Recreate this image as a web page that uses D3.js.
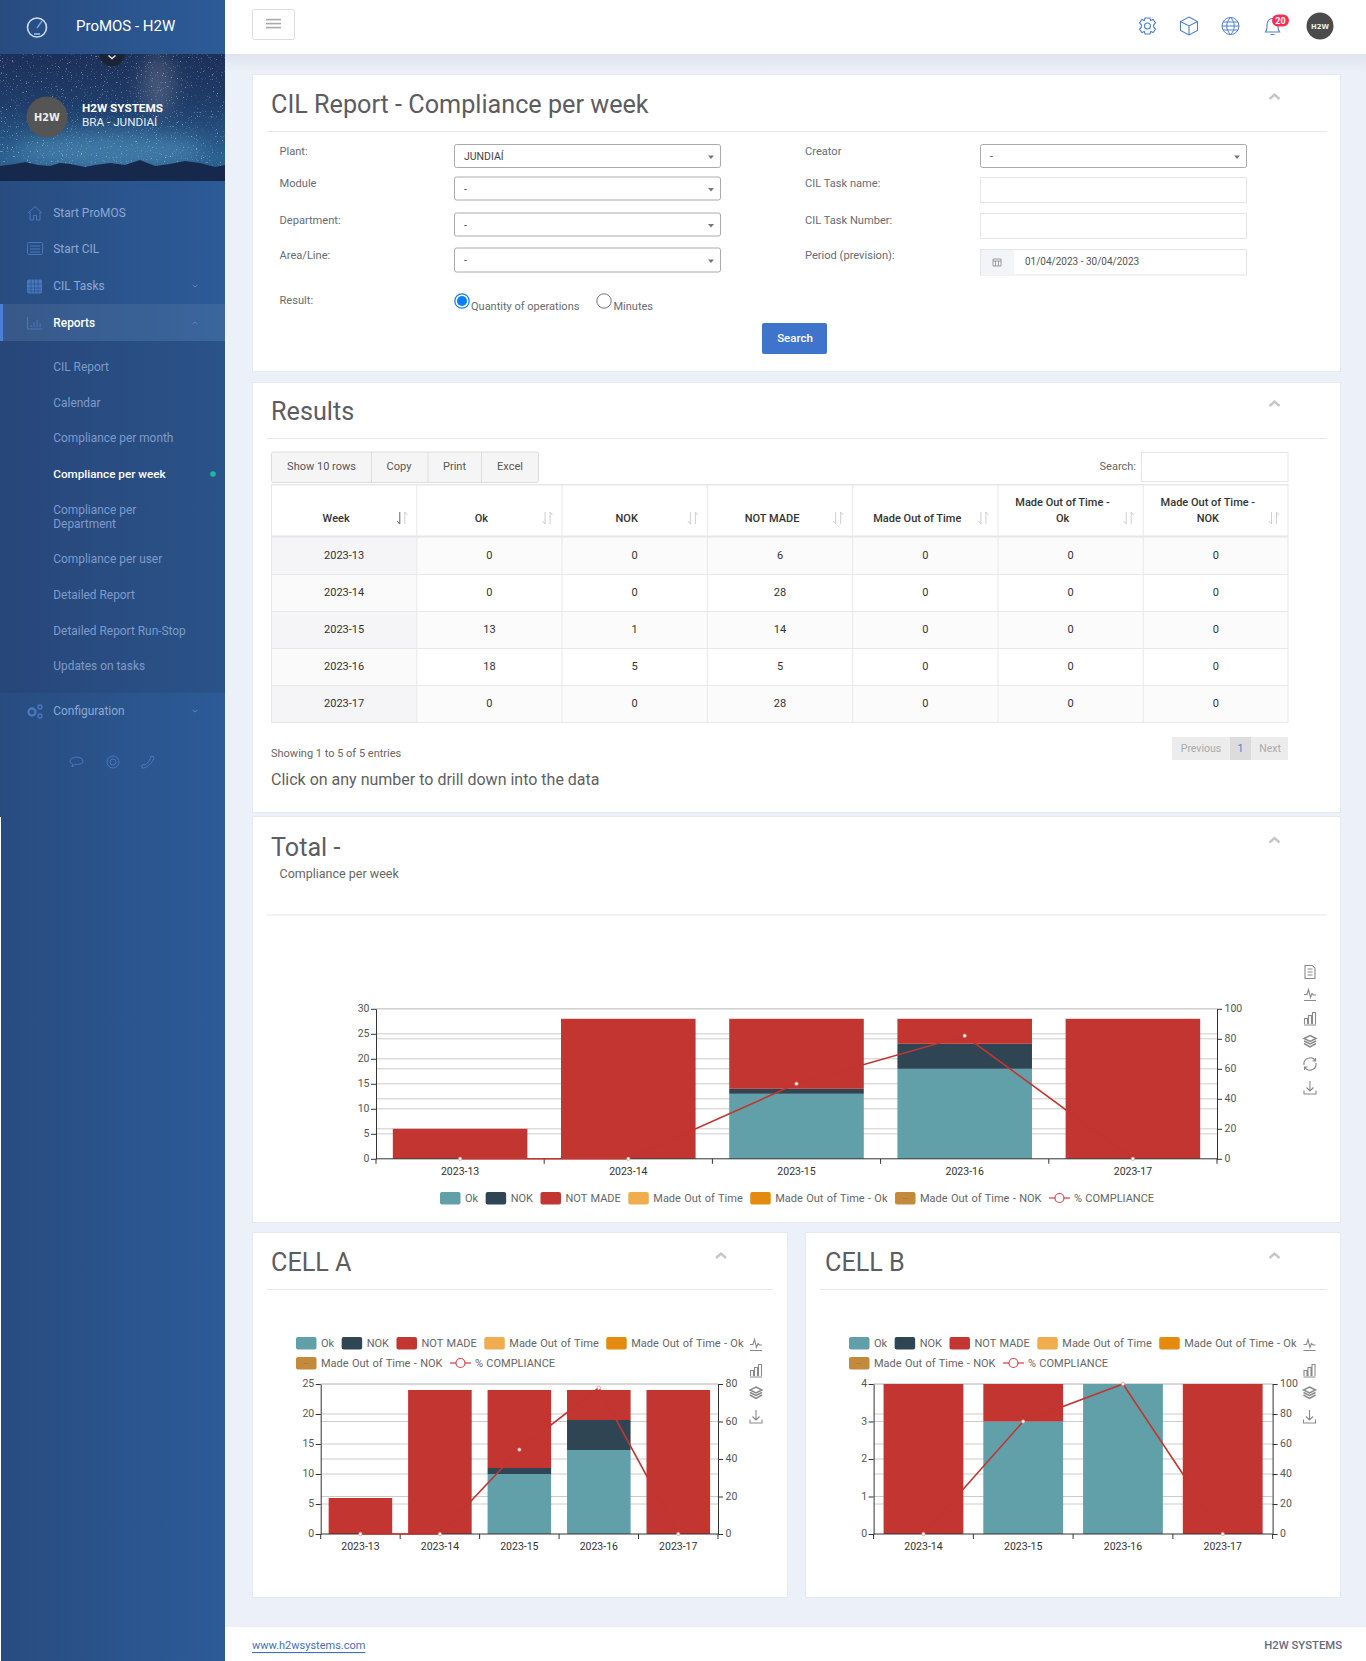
<!DOCTYPE html>
<html><head><meta charset="utf-8"><title>CIL Report - Compliance per week</title>
<script src="https://cdn.jsdelivr.net/npm/d3@7"></script>
<style>html,body{margin:0;padding:0;background:#ecf0f8}svg{display:block}text{font-family:Roboto,sans-serif}</style>
</head><body><div id="app"></div><script>
// ---------- data ----------
const weeks=["2023-13","2023-14","2023-15","2023-16","2023-17"];
const weeksB=["2023-14","2023-15","2023-16","2023-17"];
const seriesNames=["Ok","NOK","NOT MADE","Made Out of Time","Made Out of Time - Ok","Made Out of Time - NOK"];
const lineName="% COMPLIANCE";
const seriesColors=["#61a0a8","#2f4554","#c23531","#f0ad4e","#e38a0f","#c48a3c"];

const totalOk=[0,0,13,18,0];
const totalNok=[0,0,1,5,0];
const totalNotMade=[6,28,14,5,28];
const totalOutOfTime=[0,0,0,0,0];
const totalOutOk=[0,0,0,0,0];
const totalOutNok=[0,0,0,0,0];
const totalCompliance=[0,0,50,82,0];

const cellAOk=[0,0,10,14,0];
const cellANok=[0,0,1,5,0];
const cellANotMade=[6,24,13,5,24];
const cellAZero=[0,0,0,0,0];
const cellACompliance=[0,0,45,78,0];

const cellBOk=[0,3,4,0];
const cellBNok=[0,0,0,0];
const cellBNotMade=[4,1,0,4];
const cellBZero=[0,0,0,0];
const cellBCompliance=[0,75,100,0];

const tableHeaders=[["Week"],["Ok"],["NOK"],["NOT MADE"],["Made Out of Time"],["Made Out of Time -","Ok"],["Made Out of Time -","NOK"]];
const menuTop=[["Start ProMOS",213],["Start CIL",249],["CIL Tasks",286],["Reports",323]];
const menuSub=[["CIL Report",367],["Calendar",403],["Compliance per month",438],["Compliance per week",473.5],["Compliance per",510],["Department",524],["Compliance per user",559],["Detailed Report",595],["Detailed Report Run-Stop",630.5],["Updates on tasks",666]];

// ---------- canvas ----------
const W=1366,H=1661;
const svg=d3.select("#app").append("svg").attr("width",W).attr("height",H).attr("viewBox",`0 0 ${W} ${H}`);
const defs=svg.append("defs");
function grad(id,stops,x2=1,y2=0){const g=defs.append("linearGradient").attr("id",id).attr("x1",0).attr("y1",0).attr("x2",x2).attr("y2",y2);
 stops.forEach(([o,c])=>g.append("stop").attr("offset",o).attr("stop-color",c));}
grad("side",[[0,"#284c80"],[1,"#2c5b97"]]);
grad("sub",[[0,"#27467a"],[1,"#2a5389"]]);
grad("sky",[[0,"#1c3058"],[.4,"#1f3d6a"],[.8,"#2b608f"],[1,"#2c5f8e"]],0,1);
grad("shadow",[[0,"#dfe3ee"],[1,"#ecf0f8"]],0,1);
const star=defs.append("filter").attr("id","stars").attr("x",0).attr("y",0).attr("width","100%").attr("height","100%");
star.append("feTurbulence").attr("type","fractalNoise").attr("baseFrequency",.8).attr("numOctaves",2).attr("seed",7);
star.append("feColorMatrix").attr("values","0 0 0 0 1  0 0 0 0 1  0 0 0 0 1  3 3 3 0 -5.2");
defs.append("filter").attr("id","soft").attr("x","-50%").attr("y","-50%").attr("width","200%").attr("height","200%")
  .append("feGaussianBlur").attr("stdDeviation",9);

const R=(g,x,y,w,h,fill,stroke,rx)=>g.append("rect").attr("x",x).attr("y",y).attr("width",w).attr("height",h).attr("fill",fill).attr("stroke",stroke||"none").attr("rx",rx||0);
const T=(g,s,x,y,size,fill,opt={})=>g.append("text").text(s).attr("x",x).attr("y",y).attr("font-size",size).attr("fill",fill)
  .attr("font-weight",opt.w||400).attr("text-anchor",opt.a||"start").attr("dominant-baseline","central");
const P=(g,d,x,y,stroke,sw=1,fill="none")=>g.append("path").attr("d",d).attr("transform",`translate(${x},${y})`).attr("stroke",stroke).attr("stroke-width",sw).attr("fill",fill);

// ---------- page chrome ----------
const page=svg.append("g").attr("class","page");
R(page,0,0,W,H,"#ecf0f8");
R(page,225,54,W-225,18,"url(#shadow)");
R(page,225,0,W-225,54,"#fff");
R(page,225,1627,W-225,34,"#fff");
T(page,"www.h2wsystems.com",252,1645.5,11,"#3f6fc4").attr("text-decoration","underline");
T(page,"H2W SYSTEMS",1342,1645.5,11.3,"#646c80",{a:"end",w:500});

// top bar
R(page,252.5,9.5,42,30,"#fff","#ddd",2);
[19.5,23.5,27.5].forEach(y=>R(page,266,y-.7,15,1.6,"#aaa"));
const ic="#4d7fd0";
P(page,"M-2.5,-8 L2.5,-8 L3.2,-5.5 L5.6,-6.6 L8,-3 L6.2,-1.2 V1.2 L8,3 L5.6,6.6 L3.2,5.5 L2.5,8 H-2.5 L-3.2,5.5 L-5.6,6.6 L-8,3 L-6.2,1.2 V-1.2 L-8,-3 L-5.6,-6.6 L-3.2,-5.5 Z M3,0 A3,3 0 1 1 -3,0 A3,3 0 1 1 3,0",1147.5,26,ic,1.1);
P(page,"M0,-9 L8.5,-4.5 V4.5 L0,9 L-8.5,4.5 V-4.5 Z M-8.5,-4.5 L0,0 L8.5,-4.5 M0,0 V9",1189,26,ic,1.1);
P(page,"M8.5,0 A8.5,8.5 0 1 1 -8.5,0 A8.5,8.5 0 1 1 8.5,0 M-8.5,0 H8.5 M-7.5,-4 H7.5 M-7.5,4 H7.5 M0,-8.5 C-5,-4 -5,4 0,8.5 M0,-8.5 C5,-4 5,4 0,8.5",1230.5,26,ic,1);
P(page,"M-7,6 C-5,3 -5.5,1 -5.5,-1 C-5.5,-5 -3,-7.5 0,-7.5 C3,-7.5 5.5,-5 5.5,-1 C5.5,1 5,3 7,6 Z M-2,8.5 H2",1272.5,26,ic,1.1);
R(page,1272,14.5,17,12,"#fd2d55",null,6);
T(page,"20",1280.5,20.8,9,"#fff",{a:"middle",w:700});
page.append("circle").attr("cx",1320).attr("cy",26).attr("r",13.5).attr("fill","#4b4b4b");
T(page,"H2W",1320,26.5,6.8,"#eee",{a:"middle",w:700}).style("font-family","'DejaVu Sans',sans-serif");

// ---------- sidebar ----------
const side=svg.append("g").attr("class","sidebar");
R(side,0,0,225,H,"url(#side)");
R(side,0,817,1,H-817,"#fff");
// banner
R(side,0,54,225,127,"url(#sky)");
side.append("ellipse").attr("cx",110).attr("cy",150).attr("rx",95).attr("ry",18).attr("fill","#4f90b8").attr("opacity",.55).attr("filter","url(#soft)");
side.append("ellipse").attr("cx",158).attr("cy",85).attr("rx",16).attr("ry",30).attr("fill","#8c90a0").attr("opacity",.35).attr("filter","url(#soft)");
R(side,0,54,225,127,"#fff").attr("filter","url(#stars)").attr("opacity",.4);
P(side,"M0,166 L15,164 L25,162 L38,165 L50,166 L60,163 L70,164 L85,167 L95,165 L110,163 L125,165 L140,160 L155,166 L170,164 L185,161 L200,163 L215,167 L225,165 V181 H0 Z",0,0,"none",0,"#16294c");
side.append("circle").attr("cx",112).attr("cy",54).attr("r",12.5).attr("fill","#1b2338");
R(side,0,0,225,54,"url(#side)");
side.append("circle").attr("cx",37).attr("cy",27.5).attr("r",9.5).attr("fill","none").attr("stroke","#cfdcf0").attr("stroke-width",1.6);
P(side,"M0,0 L5,-7",37,28,"#6fa8e6",1.4);
P(side,"M-3,6 H3",37,28,"#6fa8e6",2);
T(side,"ProMOS - H2W",76,26,15,"#fff",{w:400});
P(side,"M-3.5,-1.5 L0,1.5 L3.5,-1.5",112,57,"#e8e8e8",1.4);
side.append("circle").attr("cx",47).attr("cy",117).attr("r",20.5).attr("fill","#555");
T(side,"H2W",47,117.5,9.8,"#eee",{a:"middle",w:700}).style("font-family","'DejaVu Sans',sans-serif");
T(side,"H2W SYSTEMS",82,108,11.7,"#fff",{w:700});
T(side,"BRA - JUNDIAÍ",82,122,11.7,"#e8eef8",{w:400});
// menu
R(side,0,304,225,37,"#fff").attr("opacity",.07);
R(side,0,304,3,37,"#4a7fd6");
R(side,0,341,225,352,"url(#sub)");
const menuColor="#8da8d4";
menuTop.concat([["Configuration",711]]).forEach(([s,y])=>T(side,s,53.3,y,11.9,s==="Reports"?"#fff":menuColor,{w:s==="Reports"?500:400}));
menuSub.forEach(([s,y])=>T(side,s,53.3,y,11.9,s==="Compliance per week"?"#fff":"#7e9bca",{w:s==="Compliance per week"?500:400}).attr("font-size",s==="Compliance per week"?11.7:11.9));
side.append("circle").attr("cx",213).attr("cy",474).attr("r",2.8).attr("fill","#1abc9c");
const mi="#4a78bd";
P(side,"M-7,0 L0,-6.5 L7,0 M-5,-1 V7 H-1.5 V2.5 H1.5 V7 H5 V-1",35,213,mi,1);
R(side,27.5,242.5,15,12,"none",mi,1);P(side,"M-5,-3 H5 M-5,0 H5 M-5,3 H5",35,249,mi,1);
R(side,27.5,280,14,13,"#4a78bd",mi,1);P(side,"M-7,-2 H7 M-7,2 H7 M-7,5 H7 M-3.5,-7 V7 M0,-7 V7 M3.5,-7 V7",34.5,286,"#2a5288",.7);
P(side,"M-7.5,-6 V6 H7.5 M-4,4 V2 M-1,4 V-1 M2,4 V-3 M5,4 V0",35,323,mi,1);
P(side,"M3.5,0 A3.5,3.5 0 1 1 -3.5,0 A3.5,3.5 0 1 1 3.5,0",32,712,mi,2.4);
P(side,"M2,0 A2,2 0 1 1 -2,0 A2,2 0 1 1 2,0",40,707,mi,1.4);P(side,"M2,0 A2,2 0 1 1 -2,0 A2,2 0 1 1 2,0",40,716,mi,1.4);
P(side,"M-7,-1 C-7,-6 6,-6 6,-1 C6,2 1,3 -2,2.5 L-5,5 L-4.5,2 C-6,1.5 -7,0.5 -7,-1",77,762,mi,1);
P(side,"M6,0 A6,6 0 1 1 -6,0 A6,6 0 1 1 6,0 M3,0 A3,3 0 1 1 -3,0 A3,3 0 1 1 3,0",113,762,mi,1);
P(side,"M-6,6 C-2,7 6,0 6,-5 L3,-6 L2,-3 C1,0 -1,2 -3,2.5 L-6,3 Z",148,762,mi,1);
[[195,286,1],[195,323,-1],[195,711,1]].forEach(([x,y,d])=>P(side,`M-2.5,${-1*d} L0,${1*d} L2.5,${-1*d}`,x,y,"#5f86c0",1));

// ---------- cards ----------
const main=svg.append("g").attr("class","content");
function card(x,y,w,h,title,tx,ty,ch){
  R(main,x+.5,y+.5,w-1,h-1,"#fff","#e6e9f1");
  T(main,title,tx,ty,25.2,"#5c5c62");
  P(main,"M-5,2.5 L0,-2 L5,2.5",ch[0],ch[1],"#c4c6cc",2.4);
}
card(252,74,1089,298,"CIL Report - Compliance per week",271,104.5,[1274.5,96.5]);
card(252,382,1089,431,"Results",271,411.5,[1274.5,403.5]);
card(252,816,1089,407,"Total -",271,847.5,[1274.5,840]);
card(252,1232,536,366,"CELL A",271,1262.5,[721,1255.5]);
card(805,1232,536,366,"CELL B",825,1262.5,[1274.5,1255.5]);
[[267,131,1327],[267,438,1327],[267,914.5,1327],[267,1289,773],[820,1289,1327]].forEach(([a,y,b])=>R(main,a,y,b-a,1,"#e8e8e8"));
T(main,"Compliance per week",279.5,873.5,12.5,"#666");

// ---------- filter form ----------
const form=main.append("g").attr("class","form");
const lab="#666c74";
[["Plant:",279.5,151.5],["Module",279.5,183.5],["Department:",279.5,220],["Area/Line:",279.5,255],["Result:",279.5,300],
 ["Creator",805,151.5],["CIL Task name:",805,183.5],["CIL Task Number:",805,220],["Period (prevision):",805,255]].forEach(([s,x,y])=>T(form,s,x,y,11.1,lab));
function select(x,y,w,h,s){R(form,x+.5,y+.5,w,h,"#fff","#aaa",2);T(form,s,x+10,y+h/2+1,10.5,"#444");
  P(form,"M-3,0 H3 L0,3.5 Z",x+w-9,y+h/2,"none",0,"#777");}
select(454,144,266,23,"JUNDIAÍ");select(454,176.5,266,23,"-");select(454,212.5,266,23,"-");select(454,247.5,266,24,"-");
select(980,144,266,23,"-");
R(form,980.5,177.5,266,25,"#fff","#e2e5ec");R(form,980.5,213.5,266,25,"#fff","#e2e5ec");
R(form,980.5,249.5,266,25.5,"#fff","#e2e5ec");R(form,981,250,33,25,"#f3f4f7");
P(form,"M-4,-3 H4 V4 H-4 Z M-4,-1 H4 M-1.5,-1 V4 M1.5,-1 V4",997,262,"#888",.8);
T(form,"01/04/2023 - 30/04/2023",1025,261.5,10,"#555");
form.append("circle").attr("cx",462).attr("cy",301).attr("r",7.2).attr("fill","#fff").attr("stroke","#0a7cff").attr("stroke-width",1.2);
form.append("circle").attr("cx",462).attr("cy",301).attr("r",5).attr("fill","#0a7cff");
form.append("circle").attr("cx",604).attr("cy",301).attr("r",7.2).attr("fill","#fff").attr("stroke","#767676").attr("stroke-width",1);
T(form,"Quantity of operations",471,306.5,11,lab);T(form,"Minutes",613.5,306.5,11,lab);
R(form,762,323,65,31,"#3f74cc",null,2);T(form,"Search",795,338,11.5,"#fff",{a:"middle",w:500});

// ---------- table ----------
const tbl=main.append("g").attr("class","table");
const tableX=d3.scaleBand().domain(tableHeaders.map((d,i)=>i)).range([271,1288]);
const rowY=d3.scaleBand().domain(weeks).range([537,722]);
R(tbl,271.5,452,267,30.5,"#f5f5f5","#ddd",2);
[371,427.5,481].forEach(x=>R(tbl,x,452,1,30.5,"#ddd"));
[["Show 10 rows",321.5],["Copy",399],["Print",454.5],["Excel",510]].forEach(([s,x])=>T(tbl,s,x,466.5,11,"#555",{a:"middle"}));
T(tbl,"Search:",1136,466.5,11,"#666",{a:"end"});
R(tbl,1141.5,452.5,146.5,29,"#fff","#e6e6e6");
const tableRows=weeks.map((w,i)=>[w,totalOk[i],totalNok[i],totalNotMade[i],totalOutOfTime[i],totalOutOk[i],totalOutNok[i]]);
tbl.selectAll("g.row").data(tableRows).join("g").attr("class","row").each(function(row,ri){
  const g=d3.select(this),y=rowY(weeks[ri]),rh=rowY.bandwidth();
  row.forEach((v,ci)=>{
    const x=tableX(ci),cw=tableX.bandwidth();
    R(g,x,y,cw,rh,ci===0?(ri%2?"#fafafa":"#f5f5f7"):(ri%2?"#fff":"#fbfbfb"));
    T(g,v,x+cw/2+.5,y+rh/2-.5,11,"#333",{a:"middle"});
  });
});
const hcol=tbl.selectAll("g.head").data(tableHeaders).join("g").attr("class","head");
hcol.each(function(lines,i){
  const g=d3.select(this),x=tableX(i),cw=tableX.bandwidth();
  lines.forEach((s,k)=>T(g,s,x+cw/2-7.5,lines.length>1?502+16*k:518,11,"#333",{a:"middle",w:500}));
  const ax=x+cw-14;
  P(g,"M-2.5,-6 V6 L-5,3",ax,518,i===0?"#555":"#c8c8c8",.9);
  P(g,"M2.5,6 V-6 L5,-3",ax,518,"#c8c8c8",.9);
});
// table rules
tableX.domain().forEach(i=>R(tbl,tableX(i),484,1,239,"#e8e8e8"));
R(tbl,1287.5,484,1,239,"#e8e8e8");R(tbl,271,484,1017,1.5,"#e8e8e8");R(tbl,271,535.5,1017,2,"#e6e6e6");
weeks.forEach(w=>R(tbl,271,rowY(w)+rowY.bandwidth(),1017,1,"#e8e8e8"));
T(tbl,"Showing 1 to 5 of 5 entries",271,753.5,11,"#666");
T(tbl,"Click on any number to drill down into the data",271,779.5,16,"#5f5f5f");
R(tbl,1172,737,116,23,"#ececec");R(tbl,1230,737,21,23,"#dcdcdc");
T(tbl,"Previous",1201,748.5,10.5,"#aaa",{a:"middle"});T(tbl,"1",1240.5,748.5,10.5,"#4d7fd0",{a:"middle"});T(tbl,"Next",1270,748.5,10.5,"#aaa",{a:"middle"});

// ---------- toolbar icons ----------
const tool={
 doc:"M-5,-6.5 H2.5 L5,-4 V6.5 H-5 Z M-2.5,-3 H2.5 M-2.5,0 H2.5 M-2.5,3 H2.5",
 line:"M-6,0 H-3 L-1.5,-5 L0.5,3 L2,-1 L3.5,0.5 H6 M-6,6 H6",
 bar:"M-5.5,6 V0.5 H-2.5 V6 M-1.5,6 V-2.5 H1.5 V6 M2.5,6 V-5.5 H5.5 V6 M-6,7 H6",
 stack:"M0,-6 L6,-3 L0,0 L-6,-3 Z M-6,-0.5 L0,2.5 L6,-0.5 M-6,2 L0,5.5 L6,2",
 refresh:"M5.5,-3 A6.2,6.2 0 0 0 -6,1 M-5.5,3 A6.2,6.2 0 0 0 6,-1 M5.5,-6 V-3 H2.5 M-5.5,6 V3 H-2.5",
 save:"M0,-6.5 V3 M-3.5,0 L0,3.5 L3.5,0 M-6,3 V6.5 H6 V3"
};
function toolbar(x,items){items.forEach(([k,y])=>P(main,tool[k],x,y,"#8a8a8a",k==="stack"?1.5:1.1));}

// ---------- combined chart ----------
function comboChart(o){
  const g=main.append("g").attr("class","chart");
  const x=d3.scaleBand().domain(o.cats).range([o.left,o.right]);
  const y=d3.scaleLinear().domain([0,o.maxL]).range([o.bottom,o.top]);
  const y2=d3.scaleLinear().domain([0,o.maxR]).range([o.bottom,o.top]);
  const rows=o.cats.map((c,i)=>{const r={cat:c};seriesNames.forEach((s,k)=>r[s]=o.values[k][i]);return r;});
  const ticksL=d3.range(0,o.maxL+1e-6,o.stepL),ticksR=d3.range(0,o.maxR+1e-6,o.stepR);
  // split-lines of both axes
  g.append("g").selectAll("line").data(ticksL.slice(1)).join("line").attr("x1",o.left).attr("x2",o.right)
    .attr("y1",d=>y(d)).attr("y2",d=>y(d)).attr("stroke","#ccc");
  g.append("g").selectAll("line").data(ticksR.slice(1)).join("line").attr("x1",o.left).attr("x2",o.right)
    .attr("y1",d=>y2(d)).attr("y2",d=>y2(d)).attr("stroke","#ccc");
  // stacked bars
  const stacked=d3.stack().keys(seriesNames)(rows);
  const bw=x.bandwidth()*.8;
  g.append("g").selectAll("g").data(stacked).join("g").attr("fill",(d,i)=>seriesColors[i])
    .selectAll("rect").data(d=>d.filter(v=>v[1]>v[0])).join("rect")
    .attr("x",d=>x(d.data.cat)+(x.bandwidth()-bw)/2).attr("width",bw)
    .attr("y",d=>y(d[1])).attr("height",d=>y(d[0])-y(d[1]));
  // axes
  const styleAxis=(a,c)=>{a.select(".domain").attr("stroke","#333");a.selectAll(".tick line").attr("stroke","#333");
    a.selectAll("text").attr("fill",c).attr("font-size",o.fs).attr("font-family","Roboto,sans-serif");};
  const ax=g.append("g").attr("transform",`translate(0,${o.bottom})`).call(d3.axisBottom(x).tickSize(0).tickPadding(9));
  styleAxis(ax,"#333");ax.select(".domain").remove();
  g.append("line").attr("x1",o.left).attr("x2",o.right).attr("y1",o.bottom).attr("y2",o.bottom).attr("stroke","#333");
  g.append("g").selectAll("line").data(d3.range(o.cats.length+1)).join("line")
    .attr("x1",i=>o.left+i*x.step()).attr("x2",i=>o.left+i*x.step()).attr("y1",o.bottom).attr("y2",o.bottom+5).attr("stroke","#333");
  const al=g.append("g").attr("transform",`translate(${o.left},0)`).call(d3.axisLeft(y).tickValues(ticksL).tickSize(5).tickPadding(1.5).tickSizeOuter(0).tickFormat(d3.format("d")));
  styleAxis(al,"#555");al.selectAll("text").attr("dy","0.28em");
  const ar=g.append("g").attr("transform",`translate(${o.right},0)`).call(d3.axisRight(y2).tickValues(ticksR).tickSize(5).tickPadding(2.5).tickSizeOuter(0).tickFormat(d3.format("d")));
  styleAxis(ar,"#555");ar.selectAll("text").attr("dy","0.28em");
  // compliance line
  const cx=c=>x(c)+x.bandwidth()/2;
  g.append("path").attr("d",d3.line().x((d,i)=>cx(o.cats[i])).y(d=>y2(d))(o.line)).attr("fill","none").attr("stroke","#c23531").attr("stroke-width",1.6);
  g.append("g").selectAll("circle").data(o.line).join("circle").attr("cx",(d,i)=>cx(o.cats[i])).attr("cy",d=>y2(d))
    .attr("r",1.7).attr("fill","#fff").attr("stroke","#e58a88").attr("stroke-width",.7);
  // legend
  const lg=g.append("g").attr("class","legend");
  let lx=o.legendX,ly=o.legendY;
  seriesNames.concat([lineName]).forEach((s,i)=>{
    if(o.breakAt===i){lx=o.legendX;ly+=20;}
    if(i<6){
      R(lg,lx,ly-6,20.5,12.5,seriesColors[i],null,2);
      if(i===5)T(lg,"...",lx+10,ly-1,7,"#8a5f20",{a:"middle"});
    }else{
      lg.append("line").attr("x1",lx).attr("x2",lx+21).attr("y1",ly).attr("y2",ly).attr("stroke","#d9646a").attr("stroke-width",1.5);
      lg.append("circle").attr("cx",lx+10.5).attr("cy",ly).attr("r",4.5).attr("fill","#fff").attr("stroke","#d9464f").attr("stroke-width",1.2);
    }
    const t=T(lg,s,lx+25,ly,o.lfs,"#666").attr("word-spacing",.6);
    lx+=25+t.node().getComputedTextLength()+7.5;
  });
}
comboChart({cats:weeks,values:[totalOk,totalNok,totalNotMade,totalOutOfTime,totalOutOk,totalOutNok],line:totalCompliance,
  left:376,right:1217,top:1008.8,bottom:1158.8,maxL:30,stepL:5,maxR:100,stepR:20,legendX:440,legendY:1198,fs:10.5,lfs:11});
comboChart({cats:weeks,values:[cellAOk,cellANok,cellANotMade,cellAZero,cellAZero,cellAZero],line:cellACompliance,
  left:320.7,right:718,top:1384,bottom:1534,maxL:25,stepL:5,maxR:80,stepR:20,legendX:296,legendY:1343,breakAt:5,fs:10.5,lfs:11});
comboChart({cats:weeksB,values:[cellBOk,cellBNok,cellBNotMade,cellBZero,cellBZero,cellBZero],line:cellBCompliance,
  left:873.6,right:1272.6,top:1384,bottom:1534,maxL:4,stepL:1,maxR:100,stepR:20,legendX:849,legendY:1343,breakAt:5,fs:10.5,lfs:11});
toolbar(1310,[["doc",972],["line",994.5],["bar",1018],["stack",1041.5],["refresh",1064],["save",1087.5]]);
toolbar(756,[["line",1344.5],["bar",1370],["stack",1393],["save",1416.5]]);
toolbar(1309.5,[["line",1344.5],["bar",1370],["stack",1393],["save",1416.5]]);
</script></body></html>
